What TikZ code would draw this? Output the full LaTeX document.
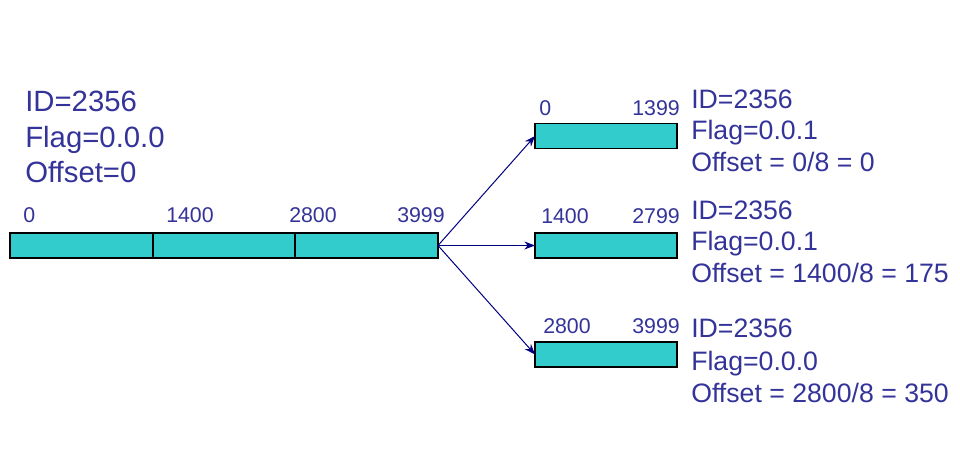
\documentclass[tikz,border=0pt]{standalone}
\usepackage{fontspec}
\setmainfont{Liberation Sans}
\usetikzlibrary{arrows.meta, positioning}
\definecolor{fragteal}{RGB}{51,204,204}
\definecolor{labelblue}{RGB}{51,51,153}
\definecolor{arrownavy}{RGB}{0,0,128}

\begin{document}
\begin{tikzpicture}[x=0.75pt, y=-0.75pt,
  seg/.style={draw=black, fill=fragteal, line width=0.8pt, minimum height=18.75pt, inner sep=0pt, outer sep=0pt},
  num/.style={text=labelblue, font=\fontsize{16}{19}\selectfont, inner sep=0pt},
  info/.style={text=labelblue, font=\fontsize{20}{24}\selectfont, inner sep=0pt, anchor=base west},
  bigin/.style={text=labelblue, font=\fontsize{22}{26}\selectfont, inner sep=0pt, anchor=base west},
  split/.style={arrownavy, line width=0.75pt, -{Stealth[length=8pt, width=6pt]}}]
  \useasboundingbox (0,0) rectangle (960,470);
  % original datagram
  \node[bigin] (origid) at (25,112) {ID=2356};
  \node[bigin] (origflag) at (25,148) {Flag=0.0.0};
  \node[bigin] (origoff) at (25,183) {Offset=0};
  \node[seg, minimum width=107.25pt, anchor=west] (whole1) at (10,245.5) {};
  \node[seg, minimum width=106.5pt, right=0pt of whole1] (whole2) {};
  \node[seg, minimum width=107.25pt, right=0pt of whole2] (whole3) {};
  \foreach \name/\x/\txt in {w0/23/0, w1/166/1400, w2/289/2800, w3/397/3999}
    \node[num, anchor=base west] (\name) at (\x,223) {\txt};
  % fragments
  \foreach \name/\y in {frag1/136, frag2/245.5, frag3/354.5}
    \node[seg, minimum width=106.5pt, anchor=west] (\name) at (535,\y) {};
  \foreach \name/\x/\y/\txt in {f1a/539/116/0, f2a/541/224/1400, f3a/543/334/2800}
    \node[num, anchor=base west] (\name) at (\x,\y) {\txt};
  \foreach \name/\y/\txt in {f1b/116/1399, f2b/224/2799, f3b/334/3999}
    \node[num, anchor=base east] (\name) at (680,\y) {\txt};
  \foreach \name/\y/\txt in {id1/109/{ID=2356}, flag1/140/{Flag=0.0.1}, off1/172/{Offset = 0/8 = 0},
      id2/220/{ID=2356}, flag2/251/{Flag=0.0.1}, off2/282/{Offset = 1400/8 = 175},
      id3/337/{ID=2356}, flag3/370/{Flag=0.0.0}, off3/402/{Offset = 2800/8 = 350}}
    \node[info] (\name) at (691,\y) {\txt};
  % splitting
  \draw[split] (whole3.east) -- (frag1.west);
  \draw[split] (whole3.east) -- (frag2.west);
  \draw[split] (whole3.east) -- (frag3.west);
\end{tikzpicture}
\end{document}
